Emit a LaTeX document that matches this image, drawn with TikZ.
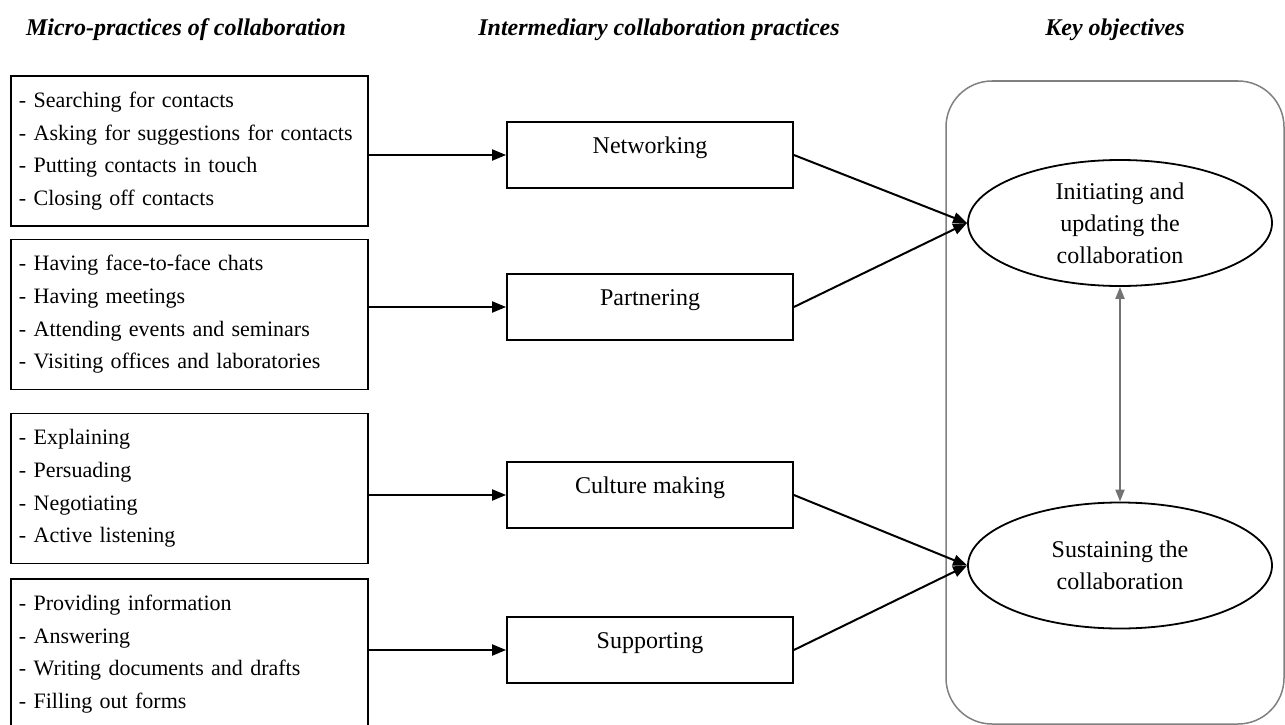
\documentclass[tikz,border=0pt]{standalone}
\usepackage{fontspec}
\setmainfont{Liberation Serif}
\usepackage{tikz}
\usetikzlibrary{shapes}
\usetikzlibrary{arrows.meta}

\begin{document}
\begin{tikzpicture}[x=1pt,y=-1pt]
\tikzstyle{every node}=[inner sep=0pt]
\tikzstyle{head}=[anchor=base,font=\fontsize{24}{30}\selectfont\bfseries\itshape]
\tikzstyle{micro}=[rectangle,draw,line width=1.8pt,inner xsep=8pt,text width=341pt,minimum width=357pt,minimum height=150pt,align=left,font=\fontsize{22}{32.7}\selectfont]
\tikzstyle{inter}=[rectangle,draw,line width=1.8pt,minimum width=286pt,minimum height=66pt,text height=16pt,text depth=20pt,font=\fontsize{24}{30}\selectfont]
\tikzstyle{goal}=[ellipse,draw,line width=1.8pt,minimum width=304pt,minimum height=126pt,align=center,font=\fontsize{24}{32}\selectfont]
\tikzstyle{link}=[->,>={Triangle[length=14pt,width=11pt]},line width=2pt]
\useasboundingbox (0,0) rectangle (1285,725);
\node[head] (hmicro) at (186,36) {Micro-practices of collaboration};
\node[head] (hinter) at (659,36) {Intermediary collaboration practices};
\node[head] (hgoal) at (1115,36) {Key objectives};
\draw[gray,line width=1.5pt,rounded corners=46pt] (946,81) rectangle (1284,724);
\node[micro] (m1) at (189.5,151) {- Searching for contacts\\- Asking for suggestions for contacts\\- Putting contacts in touch\\- Closing off contacts};
\node[micro] (m2) at (189.5,314.5) {- Having face-to-face chats\\- Having meetings\\- Attending events and seminars\\- Visiting offices and laboratories};
\node[micro] (m3) at (189.5,488.5) {- Explaining\\- Persuading\\- Negotiating\\- Active listening};
\node[micro] (m4) at (189.5,654) {- Providing information\\- Answering\\- Writing documents and drafts\\- Filling out forms};
\node[inter] (net) at (650,155) {Networking};
\node[inter] (part) at (650,307) {Partnering};
\node[inter] (cult) at (650,495) {Culture making};
\node[inter] (supp) at (650,650) {Supporting};
\node[goal] (init) at (1120,223) {Initiating and\\updating the\\collaboration};
\node[goal] (sust) at (1120,565.5) {Sustaining the\\collaboration};
\draw[link] (m1.east |- net.west) -- (net.west);
\draw[link] (m2.east |- part.west) -- (part.west);
\draw[link] (m3.east |- cult.west) -- (cult.west);
\draw[link] (m4.east |- supp.west) -- (supp.west);
\draw[link] (net.east) -- (init.west);
\draw[link] (part.east) -- (init.west);
\draw[link] (cult.east) -- (sust.west);
\draw[link] (supp.east) -- (sust.west);
\draw[link,<->,>={Triangle[length=12pt,width=9pt]},gray!90!black] (init.south) -- (sust.north);
\end{tikzpicture}
\end{document}
